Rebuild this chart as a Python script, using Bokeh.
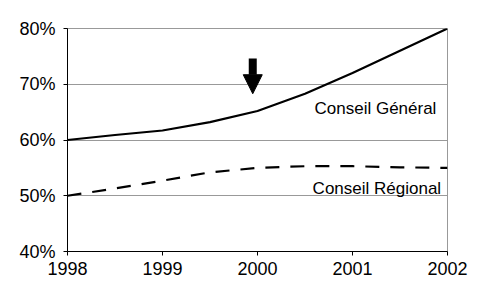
from bokeh.plotting import figure
from bokeh.models import FixedTicker, PrintfTickFormatter, Arrow, NormalHead, ColumnDataSource, Label
from bokeh.embed import file_html
from bokeh.resources import INLINE

years = [1998, 1998.5, 1999, 1999.5, 2000, 2000.5, 2001, 2001.5, 2002]
general = [60.0, 60.9, 61.7, 63.2, 65.2, 68.3, 72.0, 76.0, 80.0]
regional = [50.0, 51.3, 52.7, 54.2, 55.0, 55.3, 55.3, 55.1, 55.0]
x_ticks = [1998, 1999, 2000, 2001, 2002]
y_ticks = [40, 50, 60, 70, 80]
label_general = "Conseil Général"
label_regional = "Conseil Régional"
arrow_year = 1999.95
arrow_top = 74.6
arrow_tip = 68.3

FONT = "Liberation Sans"

p = figure(width=476, height=284, x_range=(1998, 2002), y_range=(40, 80),
           output_backend="svg", toolbar_location=None,
           min_border_left=67, min_border_right=29, min_border_top=28, min_border_bottom=33)

p.background_fill_color = "white"
p.border_fill_color = "white"
p.outline_line_color = "#999999"
p.outline_line_width = 1

p.xgrid.grid_line_color = None
p.ygrid.grid_line_color = "#999999"
p.ygrid.grid_line_width = 1

p.xaxis.ticker = FixedTicker(ticks=x_ticks)
p.yaxis.ticker = FixedTicker(ticks=y_ticks)
p.yaxis.formatter = PrintfTickFormatter(format="%d%%")
for ax in (p.xaxis, p.yaxis):
    ax.axis_line_color = "black"
    ax.axis_line_width = 1
    ax.major_tick_line_color = "black"
    ax.major_tick_in = 0
    ax.major_tick_out = 4
    ax.minor_tick_line_color = None
    ax.major_label_text_font = FONT
    ax.major_label_text_font_size = "18px"
    ax.major_label_text_color = "black"
p.xaxis.major_label_standoff = 6
p.yaxis.major_label_standoff = 8

src = ColumnDataSource(dict(x=years, g=general, r=regional))
p.line("x", "g", source=src, line_color="black", line_width=2.2)
p.line("x", "r", source=src, line_color="black", line_width=2.2, line_dash="14 11")

p.add_layout(Label(x=2000.60, y=65.65, text=label_general, text_font=FONT,
                   text_font_size="17px", text_color="black", text_baseline="alphabetic"))
p.add_layout(Label(x=2000.58, y=51.3, text=label_regional, text_font=FONT,
                   text_font_size="17px", text_color="black", text_baseline="alphabetic"))

p.add_layout(Arrow(x_start=arrow_year, y_start=arrow_top, x_end=arrow_year, y_end=arrow_tip,
                   line_width=8, line_color="black",
                   end=NormalHead(size=19, fill_color="black", line_color="black", line_width=1)))

open("out.html", "w").write(file_html(p, INLINE))
